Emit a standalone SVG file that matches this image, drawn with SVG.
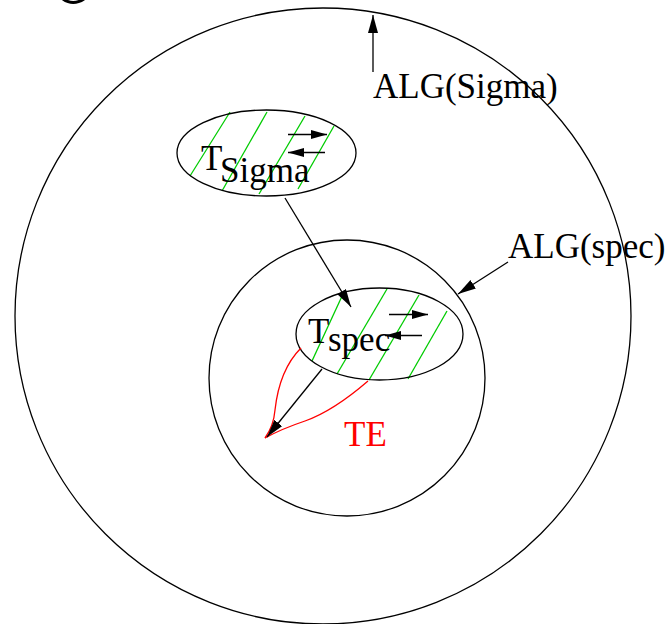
<svg xmlns="http://www.w3.org/2000/svg" width="668" height="624" viewBox="0 0 668 624">
<style>
.ln{fill:none;stroke:#000;stroke-width:1.3}
.hatch{stroke:#00cc00;stroke-width:1.3}
.red{fill:none;stroke:#ff0000;stroke-width:1.3}
.lbl{font-family:"Liberation Serif","Times New Roman",serif;font-size:35px;fill:#000}
</style>
<defs>
<marker id="ah" markerUnits="userSpaceOnUse" markerWidth="20" markerHeight="12" refX="18" refY="5" orient="auto">
<path d="M0,0 L18,5 L0,10 z" fill="#000"/>
</marker>
<marker id="ahs" markerUnits="userSpaceOnUse" markerWidth="18" markerHeight="10" refX="16" refY="4.5" orient="auto">
<path d="M0,0 L16,4.5 L0,9 z" fill="#000"/>
</marker>
</defs>
<rect width="668" height="624" fill="#fff"/>
<path d="M63,-1 Q73,6 84,-1" fill="none" stroke="#000" stroke-width="3"/>
<g id="alg-sigma">
<circle cx="323" cy="316" r="308" class="ln"/>
<text x="373" y="98" class="lbl">ALG(Sigma)</text>
</g>
<g id="alg-spec">
<circle cx="347" cy="378" r="138" class="ln"/>
<text x="508" y="258" class="lbl">ALG(spec)</text>
</g>
<g id="t-sigma">
<line class="hatch" x1="190" y1="176" x2="230" y2="112"/>
<line class="hatch" x1="222" y1="191" x2="267" y2="112"/>
<line class="hatch" x1="259" y1="194" x2="305" y2="116"/>
<line class="hatch" x1="298" y1="189" x2="334" y2="126"/>
<ellipse cx="266.5" cy="153" rx="89.5" ry="43" class="ln"/>
<line class="ln" x1="288" y1="134.5" x2="327" y2="134.5" marker-end="url(#ahs)"/>
<line class="ln" x1="325" y1="152.5" x2="288" y2="152.5" marker-end="url(#ahs)"/>
<text x="201" y="170" class="lbl">T</text>
<text x="220" y="182" class="lbl">Sigma</text>
</g>
<g id="t-spec">
<line class="hatch" x1="312" y1="361" x2="343" y2="294"/>
<line class="hatch" x1="337" y1="374" x2="387" y2="289"/>
<line class="hatch" x1="369" y1="380" x2="419" y2="295"/>
<line class="hatch" x1="408" y1="379" x2="447" y2="311"/>
<ellipse cx="379.5" cy="334" rx="83.5" ry="46" class="ln"/>
<line class="ln" x1="389" y1="314.5" x2="428" y2="314.5" marker-end="url(#ahs)"/>
<line class="ln" x1="422" y1="335.5" x2="385" y2="335.5" marker-end="url(#ahs)"/>
<text x="308" y="343" class="lbl">T</text>
<text x="328" y="351" class="lbl">spec</text>
</g>
<g id="te">
<path class="red" d="M301,348 C283,366 277,392 275,410 C274,422 270,431 265,438"/>
<path class="red" d="M368,381 C346,400 322,415 305,421 C290,426 276,432 265,438"/>
<text x="344" y="446" class="lbl" style="fill:#ff0000">TE</text>
</g>
<g id="connectors">
<line class="ln" x1="373" y1="72" x2="373" y2="15" marker-end="url(#ah)"/>
<line class="ln" x1="508" y1="262" x2="458" y2="294" marker-end="url(#ah)"/>
<line class="ln" x1="285" y1="198" x2="351" y2="307" marker-end="url(#ah)"/>
<line class="ln" x1="322" y1="369" x2="267" y2="437" marker-end="url(#ah)"/>
</g>
</svg>
